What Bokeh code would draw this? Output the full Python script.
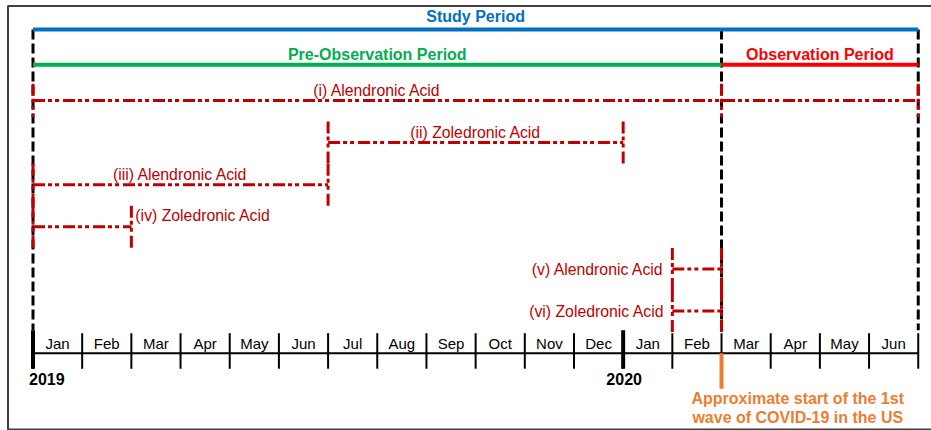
from bokeh.plotting import figure
from bokeh.models import Range1d, ColumnDataSource
from bokeh.embed import file_html
from bokeh.resources import INLINE
from bokeh.core.properties import value

# ---------------- data ----------------
months = ["Jan", "Feb", "Mar", "Apr", "May", "Jun", "Jul", "Aug", "Sep",
          "Oct", "Nov", "Dec", "Jan", "Feb", "Mar", "Apr", "May", "Jun"]
years = ["2019", "2020"]
year_start = [0, 12]                      # month index where each year starts

period_names = ["Study Period", "Pre-Observation Period", "Observation Period"]
period_start = [0, 0, 14]
period_end = [18, 14, 18]
obs_start = 14

drug_labels = ["(i) Alendronic Acid", "(ii) Zoledronic Acid", "(iii) Alendronic Acid",
               "(iv) Zoledronic Acid", "(v) Alendronic Acid", "(vi) Zoledronic Acid"]
drug_start = [0, 6, 0, 0, 13, 13]
drug_end = [18, 12, 6, 2, 14, 14]

covid_month = 14
covid_text = ["Approximate start of the 1st", "wave of COVID-19 in the US"]

# ---------------- layout / style ----------------
W, H = 931, 430
PX_PER_MONTH = 49.18
X0 = 32.5                 # px of month 0
ROW1, ROW_H = 100.0, 42.12
STUDY_Y, STUDY_TXT = 29.0, 16.0
PRE_Y, PRE_TXT = 64.3, 53.5
AXIS_Y = ROW1 + 6 * ROW_H
TICK_TOP, TICK_BOT = AXIS_Y - 20, AXIS_Y + 15.5
MONTH_TXT = AXIS_Y - 9.7
YEAR_TXT = AXIS_Y + 25.3
FONT = value("Liberation Sans")
BLUE, GREEN, RED, DRED, ORANGE = "#0070C0", "#00B050", "#FF0000", "#C00000", "#ED7D31"


def mx(px):
    return (px - X0) / PX_PER_MONTH


p = figure(width=W, height=H, output_backend="svg", toolbar_location=None,
           x_range=Range1d(mx(0), mx(W)), y_range=Range1d(H, 0), min_border=0,
           x_axis_location=None, y_axis_location=None)
p.xgrid.visible = False
p.ygrid.visible = False
p.outline_line_color = None
p.background_fill_color = "white"
p.border_fill_color = "white"

# outer frame
p.quad(left=[mx(7.5)], right=[mx(W + 5)], top=[5.5], bottom=[429], fill_color=None,
       line_color="#404040", line_width=2)

# black dashed boundaries of the periods
bounds = sorted(set(period_start + period_end))
p.segment(x0=bounds, y0=[STUDY_Y] * len(bounds), x1=bounds,
          y1=[TICK_TOP - 3] * len(bounds), line_color="black", line_width=3,
          line_dash="10 4")

# period lines + titles
p_y = [STUDY_Y, PRE_Y, PRE_Y]
p_ty = [STUDY_TXT, PRE_TXT, PRE_TXT]
p_col = [BLUE, GREEN, RED]
p.segment(x0=period_start, y0=p_y, x1=period_end, y1=p_y, line_color=p_col, line_width=4)
p.text(x=[(a + b) / 2 for a, b in zip(period_start, period_end)], y=p_ty, text=period_names,
       text_color=p_col, text_font=FONT, text_font_style="bold", text_font_size="16px",
       text_align="center", text_baseline="middle")

# drug exposure windows
hx0, hx1, hy = [], [], []
vx, vy0, vy1 = [], [], []
for i, (s, e) in enumerate(zip(drug_start, drug_end)):
    y = ROW1 + i * ROW_H
    half = (0.4 if i == 0 else 0.5) * ROW_H
    hx0.append(s); hx1.append(e); hy.append(y)
    cuts = [s, e] + ([obs_start] if s < obs_start < e else [])
    for c in cuts:
        vx.append(c); vy0.append(y - half); vy1.append(y + half)
DASH = "12 3 4 3 4 4"
p.segment(x0=hx0, y0=hy, x1=hx1, y1=hy, line_color=DRED, line_width=3, line_dash=DASH)
p.segment(x0=vx, y0=vy0, x1=vx, y1=vy1, line_color=DRED, line_width=3, line_dash=DASH)

# drug labels
mode = ["above", "above", "above", "right", "left", "left"]
lx, ly, la, lxo = [], [], [], []
for i, (s, e) in enumerate(zip(drug_start, drug_end)):
    y = ROW1 + i * ROW_H
    if mode[i] == "above":
        lx.append((s + min(e, obs_start)) / 2); ly.append(y - 10.5); la.append("center"); lxo.append(0)
    elif mode[i] == "right":
        lx.append(e); ly.append(y - 11); la.append("left"); lxo.append(4)
    else:
        lx.append(s); ly.append(y + 0.3); la.append("right"); lxo.append(-8)
src = ColumnDataSource(dict(x=lx, y=ly, t=drug_labels, a=la, xo=lxo))
p.text(x="x", y="y", text="t", text_align="a", x_offset="xo", source=src,
       text_color=DRED, text_font=FONT, text_font_size="15.8px", text_baseline="middle")

# time axis
n = len(months)
p.segment(x0=[0], y0=[AXIS_Y], x1=[n], y1=[AXIS_Y], line_color="black", line_width=2)
ticks = list(range(n + 1))
p.segment(x0=ticks, y0=[TICK_TOP] * len(ticks), x1=ticks, y1=[TICK_BOT] * len(ticks),
          line_color="black", line_width=2)
p.segment(x0=year_start, y0=[TICK_TOP - 3] * len(year_start), x1=year_start,
          y1=[TICK_BOT] * len(year_start), line_color="black", line_width=4)
p.text(x=[i + 0.5 for i in range(n)], y=[MONTH_TXT] * n, text=months,
       text_color="black", text_font=FONT, text_font_size="15px",
       text_align="center", text_baseline="middle")
ysrc = ColumnDataSource(dict(x=year_start, y=[YEAR_TXT] * len(years), t=years,
                             a=["left", "center"], xo=[-4, 1]))
p.text(x="x", y="y", text="t", text_align="a", x_offset="xo", source=ysrc,
       text_color="black", text_font=FONT, text_font_style="bold", text_font_size="16px",
       text_baseline="middle")

# COVID marker
p.segment(x0=[covid_month], y0=[AXIS_Y], x1=[covid_month], y1=[AXIS_Y + 35.5],
          line_color=ORANGE, line_width=4)
p.text(x=[covid_month + 1.55] * 2, y=[AXIS_Y + 45.1, AXIS_Y + 64.3], text=covid_text,
       text_color=ORANGE, text_font=FONT, text_font_style="bold", text_font_size="16px",
       text_align="center", text_baseline="middle")

open("out.html", "w").write(file_html(p, INLINE))
